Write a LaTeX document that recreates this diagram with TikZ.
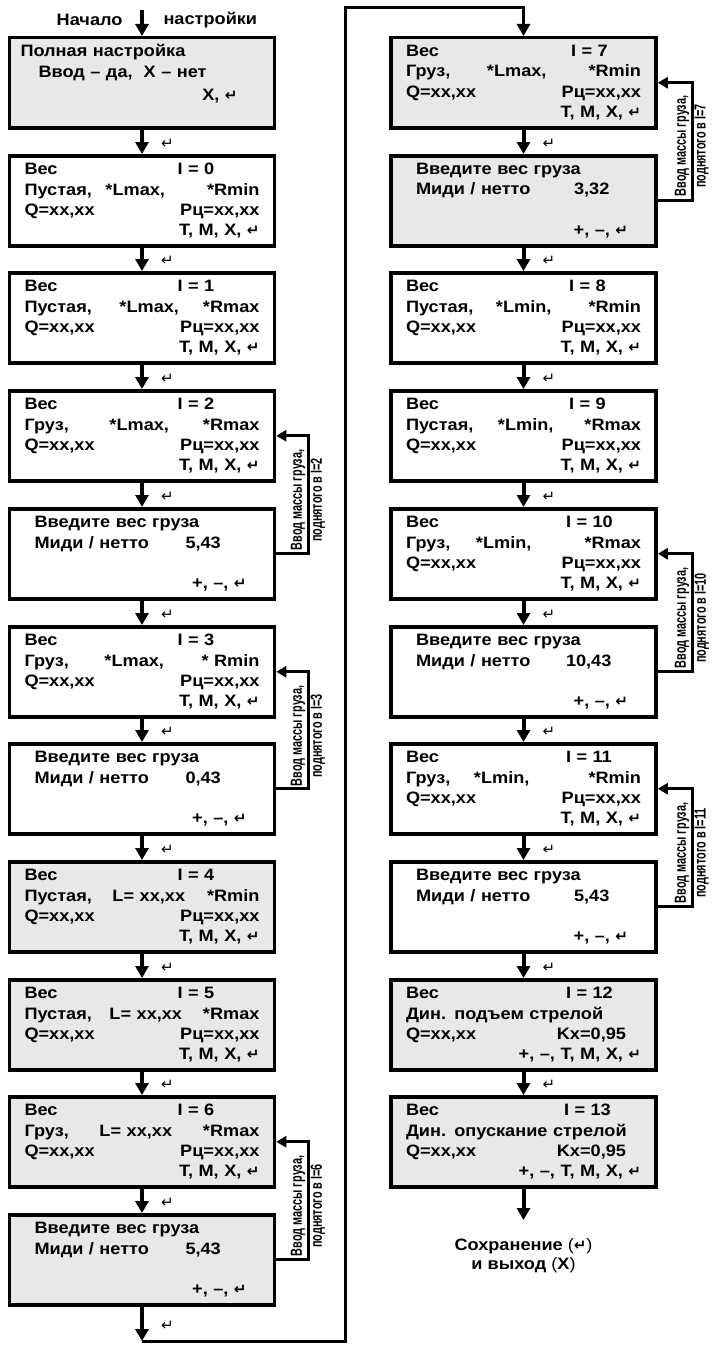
\documentclass[tikz,border=0pt]{standalone}
\usepackage{fontspec}
\setmainfont{Liberation Sans}[FakeStretch=1.1]
\newfontfamily\entfont{DejaVu Sans}
\newfontfamily\narrowfont{Liberation Sans}[FakeStretch=0.68]
\usetikzlibrary{arrows.meta}
\definecolor{scrgray}{gray}{0.91}
\newcommand\retkey{{\entfont\fontsize{15}{15}\selectfont ↵}}
\newcommand\rw[1]{\leavevmode\hbox to 235pt{#1}}
\newcommand\izm[3]{\rw{\makebox[#1][l]{Вес}I = #2\hfill}\\\rw{#3}\\\rw{Q=xx,xx\hfill Pц=xx,xx}\\\rw{\hfill T, M, X, \retkey}}
\newcommand\vvod[2]{\rw{\hspace{10pt}Введите вес груза\hfill}\\\rw{\hspace{10pt}\makebox[#1][l]{Миди / нетто}#2\hfill}\\\rw{\hfill}\\\rw{\hfill +, –, \retkey\hspace{13pt}}}
\tikzset{
  scr/.style={draw, line width=3.5pt, minimum width=265pt, minimum height=90pt,
    inner sep=0pt, anchor=north, align=left, text width=235pt,
    font=\bfseries\fontsize{16.5}{20.3}\selectfont},
  grayscr/.style={scr, fill=scrgray},
  flow/.style={line width=4pt, -{Triangle[width=13pt,length=12pt]}},
  back/.style={line width=3pt, -{Triangle[width=13pt,length=12pt]}},
  loopline/.style={line width=3pt, -{Triangle[width=11pt,length=10pt]}},
  ent/.style={right=17pt, yshift=-2pt, inner sep=0pt},
  lbl/.style={rotate=90, inner sep=1pt, font=\narrowfont\bfseries\fontsize{16}{16}\selectfont},
  txt/.style={font=\bfseries\fontsize{16.5}{19}\selectfont, align=center}
}
\begin{document}
\begin{tikzpicture}[x=1pt,y=-1pt]
\useasboundingbox (0,0) rectangle (717,1346);
% left column
\node[grayscr] (full) at (142,36) {\rw{\hspace{-4pt}Полная настройка\hfill}\\\rw{\hspace{14pt}Ввод – да,\ \ X – нет\hfill}\\[3pt]\rw{\hfill X, \retkey\hspace{22pt}}\\\rw{\hfill}};
\node[scr] (w0) at (142,154) {\izm{153pt}{0}{\makebox[81pt][l]{Пустая,}*Lmax,\hfill*Rmin}};
\node[scr] (w1) at (142,271) {\izm{153pt}{1}{\makebox[95pt][l]{Пустая,}*Lmax,\hfill*Rmax}};
\node[scr] (w2) at (142,389) {\izm{153pt}{2}{\makebox[85pt][l]{Груз,}*Lmax,\hfill*Rmax}};
\node[scr] (m2) at (142,507) {\vvod{151pt}{5,43}};
\node[scr] (w3) at (142,625) {\izm{153pt}{3}{\makebox[80pt][l]{Груз,}*Lmax,\hfill* Rmin}};
\node[scr] (m3) at (142,742) {\vvod{151pt}{0,43}};
\node[grayscr] (w4) at (142,860) {\izm{153pt}{4}{\makebox[88pt][l]{Пустая,}L= xx,xx\hfill*Rmin}};
\node[grayscr] (w5) at (142,978) {\izm{153pt}{5}{\makebox[85pt][l]{Пустая,}L= xx,xx\hfill*Rmax}};
\node[grayscr] (w6) at (142,1095) {\izm{153pt}{6}{\makebox[75pt][l]{Груз,}L= xx,xx\hfill*Rmax}};
\node[grayscr] (m6) at (142,1213) {\vvod{151pt}{5,43}};
% right column
\node[grayscr] (w7) at (523.5,36) {\izm{165pt}{7}{\makebox[81pt][l]{Груз,}*Lmax,\hfill*Rmin}};
\node[grayscr] (m7) at (523.5,154) {\vvod{158pt}{3,32}};
\node[scr] (w8) at (523.5,271) {\izm{163pt}{8}{\makebox[90pt][l]{Пустая,}*Lmin,\hfill*Rmin}};
\node[scr] (w9) at (523.5,389) {\izm{163pt}{9}{\makebox[92pt][l]{Пустая,}*Lmin,\hfill*Rmax}};
\node[scr] (w10) at (523.5,507) {\izm{160pt}{10}{\makebox[70pt][l]{Груз,}*Lmin,\hfill*Rmax}};
\node[scr] (m10) at (523.5,625) {\vvod{150pt}{10,43}};
\node[scr] (w11) at (523.5,742) {\izm{160pt}{11}{\makebox[68pt][l]{Груз,}*Lmin,\hfill*Rmin}};
\node[scr] (m11) at (523.5,860) {\vvod{158pt}{5,43}};
\node[grayscr] (w12) at (523.5,978) {\rw{\makebox[160pt][l]{Вес}I = 12\hfill}\\\rw{Дин. подъем стрелой\hfill}\\\rw{Q=xx,xx\hfill Kx=0,95\hspace{15pt}}\\\rw{\hfill +, –, T, M, X, \retkey}};
\node[grayscr] (w13) at (523.5,1095) {\rw{\makebox[158pt][l]{Вес}I = 13\hfill}\\\rw{Дин. опускание стрелой\hfill}\\\rw{Q=xx,xx\hfill Kx=0,95\hspace{15pt}}\\\rw{\hfill +, –, T, M, X, \retkey}};
% start and end
\coordinate (start) at (142,10);
\node[txt, anchor=east] (nach) at (126,20) {Начало};
\node[txt, anchor=west] (nastr) at (160,20) {настройки};
\coordinate (lend) at (142,1341);
\coordinate (fin) at (523.5,1220);
\node[txt] (save) at (523.5,1256) {Сохранение {\mdseries(}\retkey{\mdseries)}\\и выход {\mdseries(}X{\mdseries)}};
\draw[flow] (start) -- (full);
\foreach \a/\b in {full/w0,w0/w1,w1/w2,w2/m2,m2/w3,w3/m3,m3/w4,w4/w5,w5/w6,w6/m6,
  w7/m7,m7/w8,w8/w9,w9/w10,w10/m10,m10/w11,w11/m11,m11/w12,w12/w13}
  \draw[flow] (\a) -- node[ent]{\retkey} (\b);
\draw[flow] (m6) -- node[ent]{\retkey} (lend);
\draw[flow] (w13) -- (fin);
\draw[back] (lend) -- ++(203,0) |- ([yshift=28pt]w7.north) -- (w7.north);
% loops
\foreach \a/\b/\n/\x/\y in {w2/m2/2/308/500,w3/m3/3/308/736,w6/m6/6/308/1206,
  w7/m7/7/692/146,w10/m10/10/692/618,w11/m11/11/692/853}{
  \draw[loopline] (\b.east) -| (\x,\y) |- (\a.east);
  \node[lbl, anchor=south] (la\n) at (\x-1.5,\y) {Ввод массы груза,};
  \node[lbl, anchor=north] (lb\n) at (\x+1.5,\y) {поднятого в I=\n};
}
\end{tikzpicture}
\end{document}
